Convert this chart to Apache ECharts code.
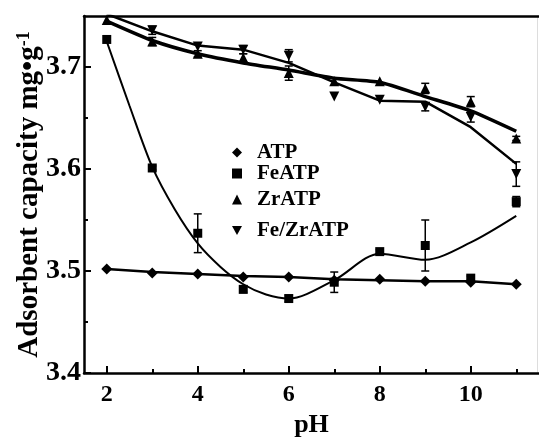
<!DOCTYPE html>
<html>
<head>
<meta charset="utf-8">
<script src="https://cdn.jsdelivr.net/npm/echarts@6/dist/echarts.min.js"></script>
<style>
  html, body { margin: 0; padding: 0; background: #fff; }
  #main { width: 539px; height: 437px; }
</style>
</head>
<body>
<div id="main"></div>
<script>
  // pH values where samples were measured
  const pH = [2, 3, 4, 5, 6, 7, 8, 9, 10, 11]

  // ATP
  const atpVals = [3.502, 3.498, 3.497, 3.494, 3.494, 3.491, 3.492, 3.490, 3.489, 3.487]
  const atpFit = [3.502, 3.499, 3.497, 3.495, 3.494, 3.492, 3.491, 3.490, 3.490, 3.487]

  // FeATP
  const feVals = [3.727, 3.601, 3.537, 3.482, 3.473, 3.489, 3.519, 3.525, 3.493, 3.568]
  const feErr = [0, 0.002, 0.019, 0.003, 0.003, 0.010, 0.002, 0.025, 0.002, 0.005]
  const feFitX = [2, 2.5, 3, 3.5, 4, 4.5, 5, 5.5, 6, 7, 8, 9, 10, 11]
  const feFit = [3.725, 3.662, 3.602, 3.560, 3.527, 3.504, 3.487, 3.477, 3.473, 3.491, 3.517, 3.511, 3.528, 3.554]

  // ZrATP
  const zrVals = [3.746, 3.725, 3.713, 3.709, 3.694, 3.686, 3.686, 3.679, 3.666, 3.630]
  const zrErr = [0, 0.004, 0.003, 0.004, 0.007, 0, 0, 0.005, 0.005, 0.002]
  const zrFit = [3.745, 3.726, 3.713, 3.704, 3.697, 3.689, 3.685, 3.671, 3.657, 3.637]

  // Fe/ZrATP
  const fzVals = [3.753, 3.736, 3.720, 3.717, 3.711, 3.671, 3.668, 3.661, 3.651, 3.595]
  const fzErr = [0, 0.004, 0, 0.004, 0.006, 0, 0, 0.004, 0.005, 0.012]
  const fzFit = [3.752, 3.735, 3.721, 3.717, 3.704, 3.685, 3.667, 3.666, 3.641, 3.605]

  const xMajor = [2, 4, 6, 8, 10]
  const xMinor = [3, 5, 7, 9, 11]
  const yMajor = [3.4, 3.5, 3.6, 3.7]
  const yMinor = [3.45, 3.55, 3.65]

  const font = 'Liberation Serif, Times New Roman, serif'
  const downTriangle = 'path://M0,0 L10,0 L5,9 Z'

  let pairs = (xs, ys) => xs.map((x, i) => [x, ys[i]])
  let errRows = (vals, errs) => {
    let rows = []
    for (let i = 0; i < pH.length; i++) {
      if (errs[i] > 0) rows.push([pH[i], vals[i] - errs[i], vals[i] + errs[i]])
    }
    return rows
  }

  let renderErr = (params, api) => {
    let x = api.value(0)
    let lo = api.coord([x, api.value(1)])
    let hi = api.coord([x, api.value(2)])
    let w = 4
    let style = { stroke: '#000', lineWidth: 1.5 }
    return {
      type: 'group',
      children: [
        { type: 'line', shape: { x1: lo[0], y1: lo[1], x2: hi[0], y2: hi[1] }, style: style },
        { type: 'line', shape: { x1: lo[0] - w, y1: lo[1], x2: lo[0] + w, y2: lo[1] }, style: style },
        { type: 'line', shape: { x1: hi[0] - w, y1: hi[1], x2: hi[0] + w, y2: hi[1] }, style: style }
      ]
    }
  }

  let lineSeries = (data, width, smooth) => ({
    type: 'line',
    data: data,
    showSymbol: false,
    smooth: smooth,
    lineStyle: { color: '#000', width: width },
    silent: true,
    z: 2
  })

  let markSeries = (name, vals, symbol, size) => ({
    name: name,
    type: 'scatter',
    data: pairs(pH, vals),
    symbol: symbol,
    symbolSize: size,
    itemStyle: { color: '#000', opacity: 1 },
    z: 3
  })

  let errSeries = (vals, errs) => ({
    type: 'custom',
    renderItem: renderErr,
    data: errRows(vals, errs),
    encode: { x: 0, y: [1, 2] },
    silent: true,
    z: 4
  })

  let legendAt = (name, top) => ({
    data: [name],
    left: 232,
    top: top,
    padding: 0,
    itemWidth: 10,
    itemHeight: 10,
    selectedMode: false,
    itemStyle: { opacity: 1 },
    textStyle: { fontFamily: font, fontWeight: 'bold', fontSize: 21, color: '#000', padding: [0, 0, 0, 10] }
  })

  let myChart = echarts.init(document.getElementById('main'))

  let option = {
    animation: false,
    backgroundColor: '#fff',
    grid: { left: 84, right: 0, top: 16, bottom: 64, containLabel: false, outerBoundsMode: 'none' },
    legend: [
      legendAt('ATP', 142),
      legendAt('FeATP', 163),
      legendAt('ZrATP', 189),
      legendAt('Fe/ZrATP', 220)
    ],
    xAxis: [
      {
        type: 'value',
        min: 1.5,
        max: 11.5,
        position: 'bottom',
        name: 'pH',
        nameLocation: 'middle',
        nameGap: 37,
        nameTextStyle: { fontFamily: font, fontWeight: 'bold', fontSize: 26, color: '#000' },
        axisLine: { lineStyle: { color: '#000', width: 2.5 } },
        axisTick: { inside: true, length: 7, customValues: xMajor, lineStyle: { color: '#000', width: 2 } },
        axisLabel: { customValues: xMajor, margin: 10, fontFamily: font, fontWeight: 'bold', fontSize: 24, color: '#000' },
        splitLine: { show: false }
      },
      {
        type: 'value',
        min: 1.5,
        max: 11.5,
        position: 'bottom',
        axisLine: { show: false },
        axisTick: { inside: true, length: 4, customValues: xMinor, lineStyle: { color: '#000', width: 2 } },
        axisLabel: { show: false },
        splitLine: { show: false }
      },
      {
        type: 'value',
        min: 1.5,
        max: 11.5,
        position: 'top',
        axisLine: { lineStyle: { color: '#000', width: 2.5 } },
        axisTick: { show: false },
        axisLabel: { show: false },
        splitLine: { show: false }
      }
    ],
    yAxis: [
      {
        type: 'value',
        min: 3.4,
        max: 3.75,
        position: 'left',
        name: '{a|Adsorbent capacity mg•g}{s|-1}',
        nameLocation: 'middle',
        nameGap: 39,
        nameMoveOverlap: false,
        nameTextStyle: {
          rich: {
            a: { fontFamily: font, fontWeight: 'bold', fontSize: 29, color: '#000', lineHeight: 30 },
            s: { fontFamily: font, fontWeight: 'bold', fontSize: 18, color: '#000', verticalAlign: 'top', lineHeight: 18 }
          }
        },
        axisLine: { lineStyle: { color: '#000', width: 2.5 } },
        axisTick: { inside: true, length: 7, customValues: yMajor, lineStyle: { color: '#000', width: 2 } },
        axisLabel: {
          customValues: yMajor,
          margin: 3,
          formatter: v => v.toFixed(1),
          fontFamily: font, fontWeight: 'bold', fontSize: 28, color: '#000'
        },
        splitLine: { show: false }
      },
      {
        type: 'value',
        min: 3.4,
        max: 3.75,
        position: 'left',
        axisLine: { show: false },
        axisTick: { inside: true, length: 4, customValues: yMinor, lineStyle: { color: '#000', width: 2 } },
        axisLabel: { show: false },
        splitLine: { show: false }
      },
      {
        type: 'value',
        min: 3.4,
        max: 3.75,
        position: 'right',
        offset: -2,
        axisLine: { lineStyle: { color: '#ddd', width: 1 } },
        axisTick: { show: false },
        axisLabel: { show: false },
        splitLine: { show: false }
      }
    ],
    series: [
      lineSeries(pairs(pH, atpFit), 2.5, false),
      lineSeries(pairs(feFitX, feFit), 2, 0.3),
      lineSeries(pairs(pH, zrFit), 3.5, 0.2),
      lineSeries(pairs(pH, fzFit), 2.5, false),
      markSeries('ATP', atpVals, 'diamond', 11),
      markSeries('FeATP', feVals, 'rect', 9),
      markSeries('ZrATP', zrVals, 'triangle', 10),
      markSeries('Fe/ZrATP', fzVals, downTriangle, 10),
      errSeries(feVals, feErr),
      errSeries(zrVals, zrErr),
      errSeries(fzVals, fzErr)
    ]
  }

  myChart.setOption(option)
</script>
</body>
</html>
